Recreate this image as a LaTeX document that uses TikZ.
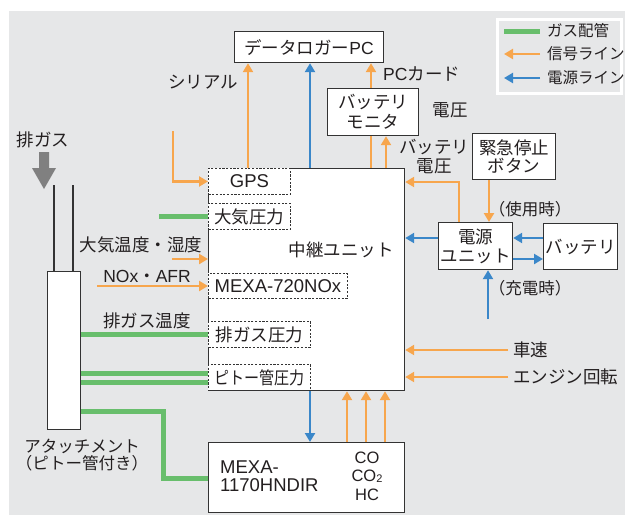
\documentclass[tikz,border=0pt]{standalone}
\usepackage{graphicx}
\usepackage{fontspec}
\setmainfont{Liberation Sans}
\newfontfamily\jp{Noto Sans CJK JP}
\usetikzlibrary{arrows.meta,calc}
\definecolor{bg}{HTML}{E6E7E8}
\definecolor{sigc}{HTML}{F7A64D}
\definecolor{powc}{HTML}{3A87C9}
\definecolor{gasc}{HTML}{68BE6C}
\definecolor{edge}{HTML}{333333}
\definecolor{txt}{HTML}{231F20}
\begin{document}
\begin{tikzpicture}[x=1pt,y=-1pt,
  box/.style={draw=edge, line width=1.2pt, fill=white, inner sep=0pt, anchor=north west, align=center, text=txt},
  sub/.style={draw=edge, line width=0.9pt, dash pattern=on 2.2pt off 1.5pt, fill=white, inner sep=0pt, anchor=north west, text=txt},
  sig/.style={draw=sigc, line width=2.4pt, -{Triangle[length=9pt,width=10pt]}},
  sigl/.style={draw=sigc, line width=2.4pt},
  pow/.style={draw=powc, line width=2.4pt, -{Triangle[length=9pt,width=10pt]}},
  gas/.style={draw=gasc, line width=5pt},
  lbl/.style={inner sep=0pt, align=center, text=txt},
  smallf/.style={font=\fontsize{16.5}{17}\selectfont},
  legf/.style={font=\fontsize{15.5}{17}\selectfont},
  latf/.style={font=\fontsize{18.5}{19}\selectfont},
  font=\fontsize{17.5}{19}\selectfont]
\useasboundingbox (0,0) rectangle (631,515);
\fill[bg] (9,11) rectangle (625,515);

% legend
\node[draw=white, line width=2.5pt, fill=bg, minimum width=124pt, minimum height=74pt, anchor=north west, inner sep=0pt] (leg) at (496,18) {};
\coordinate (l1a) at (504,31); \coordinate (l1b) at (540,31);
\coordinate (l2a) at (504,54); \coordinate (l2b) at (540,54);
\coordinate (l3a) at (504,78); \coordinate (l3b) at (540,78);
\draw[gas] (l1a) -- (l1b);
\draw[sig] (l2b) -- (l2a);
\draw[pow] (l3b) -- (l3a);
\node[lbl, legf, anchor=west] (lt1) at (547,31) {\jp ガス配管};
\node[lbl, legf, anchor=west] (lt2) at (547,54) {\jp 信号ライン};
\node[lbl, legf, anchor=west] (lt3) at (547,78) {\jp 電源ライン};

% boxes
\node[box, minimum width=149pt, minimum height=31pt] (pc) at (234,31) {{\jp データロガー}PC};
\node[box, minimum width=196pt, minimum height=222pt] (main) at (208,168) {};
\node[lbl] (mainlbl) at (341,250) {\jp 中継ユニット};
\node[sub, latf, minimum width=82pt, minimum height=26pt] (gps) at (208,168) {GPS};
\node[sub, minimum width=82pt, minimum height=26pt] (atm) at (208,203) {\jp 大気圧力};
\node[sub, latf, minimum width=139pt, minimum height=25pt] (nox) at (208,273) {MEXA-720NOx};
\node[sub, minimum width=102pt, minimum height=26pt] (exp) at (208,321) {\jp 排ガス圧力};
\node[sub, minimum width=102pt, minimum height=26pt] (pit) at (208,364) {\scalebox{0.86}[1]{\jp ピトー管圧力}};
\node[box, minimum width=196pt, minimum height=70pt] (mexa) at (208,442) {};
\node[lbl, align=left, anchor=west, font=\fontsize{18.5}{18}\selectfont] (mexalbl) at (220,476) {MEXA-\\1170HNDIR};
\node[lbl, font=\fontsize{16.5}{18.5}\selectfont] (gaslbl) at (367,476) {CO\\CO{\fontsize{11}{11}\selectfont\raisebox{-1pt}{2}}\\HC};
\node[box, minimum width=91pt, minimum height=47pt, font=\fontsize{17.5}{20}\selectfont] (mon) at (327,88) {\jp バッテリ\\\jp モニタ};
\node[box, minimum width=83pt, minimum height=46pt, font=\fontsize{17.5}{18}\selectfont] (emg) at (472,133) {\jp 緊急停止\\\jp ボタン};
\node[box, minimum width=74pt, minimum height=47pt] (psu) at (438,222) {\jp 電源\\\jp ユニット};
\node[box, minimum width=74pt, minimum height=46pt] (bat) at (543,223) {\jp バッテリ};

% attachment
\node[box, minimum width=33pt, minimum height=158pt] (att) at (47,271) {};
\coordinate (t1) at (54,185); \coordinate (t2) at (73,185);
\draw[edge, line width=1.1pt] (t1) -- (t1 |- att.north);
\draw[edge, line width=1.1pt] (t2) -- (t2 |- att.north);
\fill[black!50] (39,152) -- (49,152) -- (49,168) -- (56,168) -- (44,189) -- (32,168) -- (39,168) -- cycle;
\node[lbl] (exh) at (43,140) {\jp 排ガス};

% labels
\node[lbl] (serial) at (203,82) {\jp シリアル};
\node[lbl, anchor=west] (pccard) at (383,74) {PC{\jp カード}};
\node[lbl] (volt1) at (450,110) {\jp 電圧};
\node[lbl] (batv) at (434,157) {\jp バッテリ\\\jp 電圧};
\node[lbl] (hum) at (141,245) {\jp 大気温度・湿度};
\node[lbl] (noxl) at (147,276) {NOx{\jp ・}AFR};
\node[lbl] (exht) at (147,321) {\jp 排ガス温度};
\node[lbl, smallf] (attl1) at (82,446) {\jp アタッチメント};
\node[lbl, smallf] (attl2) at (82,463) {\jp （ピトー管付き）};
\node[lbl, smallf] (use) at (530,209) {\jp （使用時）};
\node[lbl, smallf] (chgl) at (530,288) {\jp （充電時）};
\node[lbl, anchor=west] (spdl) at (513,350) {\jp 車速};
\node[lbl, anchor=west] (rpml) at (513,377) {\jp エンジン回転};

% coordinates for connector columns/rows
\coordinate (x248) at (248,0);
\coordinate (x310) at (310,0);
\coordinate (x371) at (371,0);
\coordinate (x386) at (386,0);
\coordinate (x459) at (459,0);
\coordinate (x489) at (489,0);
\coordinate (x347) at (347,0);
\coordinate (x366) at (366,0);
\coordinate (x385) at (385,0);
\coordinate (y182) at (0,182);
\coordinate (y238) at (0,238);
\coordinate (y259) at (0,259);
\coordinate (y334) at (0,334);
\coordinate (y373) at (0,373);
\coordinate (y382) at (0,382);
\coordinate (y411) at (0,411);
\coordinate (gk) at (163,478);
\coordinate (gpsin) at (173,131);
\coordinate (chg) at (488,319);
\coordinate (spd) at (508,350);
\coordinate (rpm) at (508,377);
\coordinate (atmin) at (159,216);
\coordinate (humin) at (172,259);
\coordinate (noxin) at (97,286);

% connectors
\draw[sig] (x248 |- main.north) -- (x248 |- pc.south);
\draw[pow] (x310 |- main.north) -- (x310 |- pc.south);
\draw[sig] (gpsin) |- (gps.west);
\draw[sig] (x371 |- mon.north) -- (x371 |- pc.south);
\draw[sigl] (x371 |- main.north) -- (x371 |- mon.south);
\draw[sig] (x386 |- main.north) -- (x386 |- mon.south);
\draw[sig] (x459 |- psu.north) |- (y182 -| main.east);
\draw[sig] (x489 |- emg.south) -- (x489 |- psu.north);
\draw[pow] (psu.west |- y238) -- (main.east |- y238);
\draw[pow] (bat.west |- y238) -- (psu.east |- y238);
\draw[pow] (psu.east |- y259) -- (bat.west |- y259);
\draw[pow] (chg) -- (chg |- psu.south);
\draw[sig] (spd) -- (spd -| main.east);
\draw[sig] (rpm) -- (rpm -| main.east);
\draw[pow] (x310 |- pit.south) -- (x310 |- mexa.north);
\draw[sig] (x347 |- mexa.north) -- (x347 |- main.south);
\draw[sig] (x366 |- mexa.north) -- (x366 |- main.south);
\draw[sig] (x385 |- mexa.north) -- (x385 |- main.south);
\draw[gas] (atmin) -- (atmin -| atm.west);
\draw[sig] (humin) -- (humin -| main.west);
\draw[sig] (noxin) -- (noxin -| nox.west);
\draw[gas] (att.east |- y334) -- (exp.west |- y334);
\draw[gas] (att.east |- y373) -- (pit.west |- y373);
\draw[gas] (att.east |- y382) -- (pit.west |- y382);
\draw[gas] (att.east |- y411) -| (gk) -- (gk -| mexa.west);
\end{tikzpicture}
\end{document}
